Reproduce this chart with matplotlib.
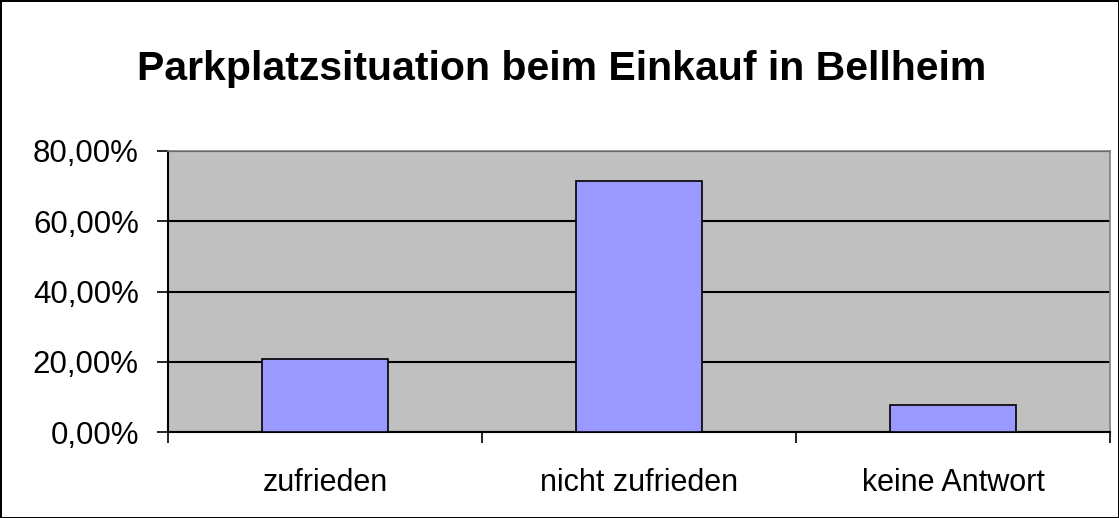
import matplotlib.pyplot as plt
from matplotlib.ticker import FuncFormatter, FixedLocator

# Data
categories = ['zufrieden', 'nicht zufrieden', 'keine Antwort']
shares = [20.7, 71.5, 7.7]
y_ticks = [0, 20, 40, 60, 80]

plt.rcParams['font.family'] = ['Liberation Sans', 'DejaVu Sans']

fig = plt.figure(figsize=(11.19, 5.18), dpi=100)
fig.patch.set_facecolor('white')
fig.patch.set_edgecolor('black')
fig.patch.set_linewidth(2)

# plot area in pixels: left 168, right 1110, top 151, bottom 432
W, H = 1119, 518
ax = fig.add_axes([168 / W, (H - 432) / H, (1110 - 168) / W, (432 - 151) / H])
ax.set_facecolor('#C0C0C0')

x = range(len(categories))
ax.bar(x, shares, width=0.4, color='#9999FF', edgecolor='black', linewidth=1.2, zorder=3)

ax.set_xlim(-0.5, len(categories) - 0.5)
ax.set_ylim(0, 80)
ax.set_yticks(y_ticks)
ax.yaxis.set_major_formatter(FuncFormatter(lambda v, p: f'{v:.2f}%'.replace('.', ',')))
ax.yaxis.grid(True, color='black', linewidth=1.5, zorder=1)
ax.set_axisbelow(True)

ax.set_xticks(list(x))
ax.set_xticklabels(categories)
ax.xaxis.set_minor_locator(FixedLocator([i - 0.5 for i in range(len(categories) + 1)]))
ax.tick_params(axis='x', which='major', length=0, pad=26, labelsize=22)
ax.tick_params(axis='x', which='minor', length=8, width=1.2, direction='out')
ax.tick_params(axis='y', length=8, width=1.2, direction='out', labelsize=22.5, pad=13)

for side in ['left', 'bottom']:
    ax.spines[side].set_color('black')
    ax.spines[side].set_linewidth(1.5)
for side in ['top', 'right']:
    ax.spines[side].set_color('#808080')
    ax.spines[side].set_linewidth(1.2)

fig.text(562 / W, 1 - 80 / H, 'Parkplatzsituation beim Einkauf in Bellheim',
         ha='center', va='baseline', fontsize=29.5, fontweight='bold')

fig.savefig('out.png', dpi=100)
